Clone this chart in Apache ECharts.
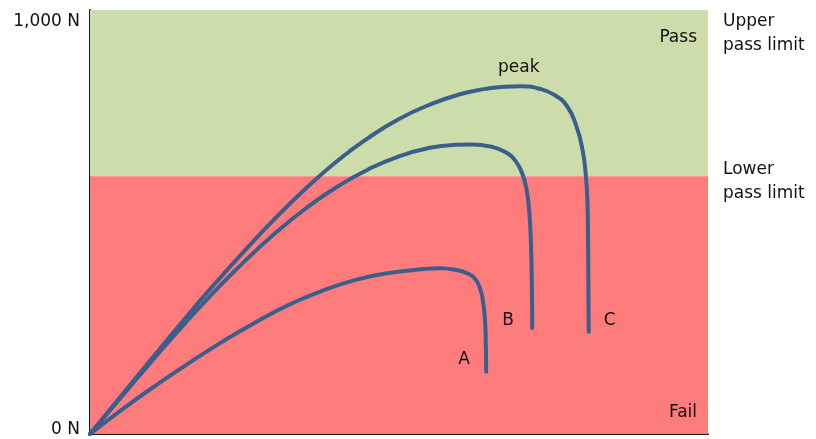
<!DOCTYPE html>
<html>
<head>
<meta charset="utf-8">
<script src="https://cdn.jsdelivr.net/npm/echarts@6/dist/echarts.min.js"></script>
<style>
  html, body { margin: 0; padding: 0; background: #ffffff; }
  #chart { width: 816px; height: 439px; }
</style>
</head>
<body>
<div id="chart"></div>
<script>
// Force–displacement curves for three samples (x: displacement, relative units; y: force in N)
const curveA = [
  [0, 0], [5.39, 60], [10.79, 116], [16.18, 169], [21.57, 219], [26.97, 265],
  [32.36, 306], [37.76, 339], [43.15, 364], [48.54, 380], [53.94, 389], [56.6, 391],
  [59.3, 387], [61.2, 378], [62.3, 366], [63.1, 344], [63.6, 312], [63.9, 272],
  [64.05, 210], [64.1, 147]
];
const curveB = [
  [0, 0], [5, 86], [10, 172], [15, 255], [20, 334], [25, 407], [30, 474],
  [35, 533], [40, 583], [45, 624], [50, 655], [55, 675], [59, 682], [62, 683],
  [64.8, 678], [67.2, 665], [68.9, 643], [70.0, 612], [70.7, 571], [71.1, 520],
  [71.35, 450], [71.5, 350], [71.55, 250]
];
const curveC = [
  [0, 0], [5, 89], [10, 178], [15, 266], [20, 351], [25, 432], [30, 509],
  [35, 580], [40, 644], [45, 698], [50, 743], [55, 777], [60, 802], [64, 814],
  [67, 819], [69.7, 820], [72.5, 815], [75, 801], [77.2, 773], [78.7, 726],
  [79.7, 670], [80.2, 615], [80.5, 545], [80.6, 440], [80.65, 340], [80.7, 241]
];
const curveNames = ['A', 'B', 'C'];

// Force axis range, pass limits and tick labels
const forceMin = 0;
const forceMax = 1000;
const lowerPassLimit = 608;
const upperPassLimit = 1000;
const forceTickLabels = { 0: '0 N', 1000: '1,000 N' };
const zoneLabels = ['Pass', 'Fail'];
const limitLabels = ['Upper\npass limit', 'Lower\npass limit'];
const peakLabel = 'peak';

const FONT = 'DejaVu Sans';
const LINE_COLOR = '#3b5f8d';
const textStyle = { color: '#111111', fontFamily: FONT, fontSize: 17 };

// Offsets of the sample letters from each curve's end point
const nameOffsets = [[-22, -12], [-24, -7], [21, -11]];

const chart = echarts.init(document.getElementById('chart'), null, { renderer: 'canvas' });

function curveSeries(data, idx) {
  const last = data[data.length - 1];
  const s = {
    type: 'line',
    name: curveNames[idx],
    data: data,
    showSymbol: false,
    smooth: 0.5,
    z: 5,
    lineStyle: { color: LINE_COLOR, width: 4, cap: 'round', join: 'round' },
    itemStyle: { color: LINE_COLOR },
    markPoint: {
      symbol: 'circle',
      symbolSize: 1,
      itemStyle: { color: 'rgba(0,0,0,0)' },
      label: Object.assign({ show: true, position: 'inside', formatter: curveNames[idx], offset: nameOffsets[idx] }, textStyle),
      data: [{ coord: last }]
    }
  };
  if (idx === 2) {
    s.markPoint.data.push({
      type: 'max',
      label: Object.assign({ show: true, position: 'inside', formatter: peakLabel, offset: [-2, -19] }, textStyle)
    });
    // Pass-limit captions on the right of the plot
    s.markLine = {
      silent: true,
      symbol: 'none',
      lineStyle: { color: 'rgba(0,0,0,0)', width: 1, type: 'solid' },
      emphasis: { disabled: true },
      data: [
        { yAxis: upperPassLimit,
          label: Object.assign({ show: true, position: 'end', formatter: limitLabels[0], distance: 15, lineHeight: 24, offset: [0, 24] }, textStyle) },
        { yAxis: lowerPassLimit,
          label: Object.assign({ show: true, position: 'end', formatter: limitLabels[1], distance: 15, lineHeight: 24, offset: [0, 5] }, textStyle) }
      ]
    };
  }
  return s;
}

const bands = {
  type: 'line',
  data: [],
  z: 1,
  markArea: {
    silent: true,
    z: 1,
    data: [
      [
        { yAxis: lowerPassLimit, itemStyle: { color: '#cddcab' },
          label: Object.assign({ show: true, position: 'insideTopRight', formatter: zoneLabels[0], offset: [-6, 14] }, textStyle) },
        { yAxis: upperPassLimit }
      ],
      [
        { yAxis: forceMin, itemStyle: { color: '#ff7c7c' },
          label: Object.assign({ show: true, position: 'insideBottomRight', formatter: zoneLabels[1], offset: [-6, -8] }, textStyle) },
        { yAxis: lowerPassLimit }
      ]
    ]
  }
};

const option = {
  animation: false,
  backgroundColor: '#ffffff',
  grid: { left: 90, right: 108, top: 10, bottom: 5, containLabel: false },
  xAxis: {
    type: 'value',
    min: 0,
    max: 100,
    axisLine: { show: true, onZero: false, lineStyle: { color: '#1a1a1a', width: 2 } },
    axisTick: { show: false },
    axisLabel: { show: false },
    splitLine: { show: false }
  },
  yAxis: {
    type: 'value',
    min: forceMin,
    max: forceMax,
    interval: 1000,
    axisLine: { show: true, onZero: false, lineStyle: { color: '#1a1a1a', width: 2 } },
    axisTick: { show: false },
    splitLine: { show: false },
    axisLabel: Object.assign({
      margin: 10,
      formatter: function (v) {
        const t = forceTickLabels[v] || '';
        return v === forceMax ? '{hi|' + t + '}' : '{lo|' + t + '}';
      },
      verticalAlignMinLabel: 'bottom',
      verticalAlignMaxLabel: 'top',
      rich: {
        hi: Object.assign({ lineHeight: 24 }, textStyle),
        lo: Object.assign({ lineHeight: 8 }, textStyle)
      }
    }, textStyle)
  },
  series: [bands, curveSeries(curveA, 0), curveSeries(curveB, 1), curveSeries(curveC, 2)]
};

chart.setOption(option);
</script>
</body>
</html>
